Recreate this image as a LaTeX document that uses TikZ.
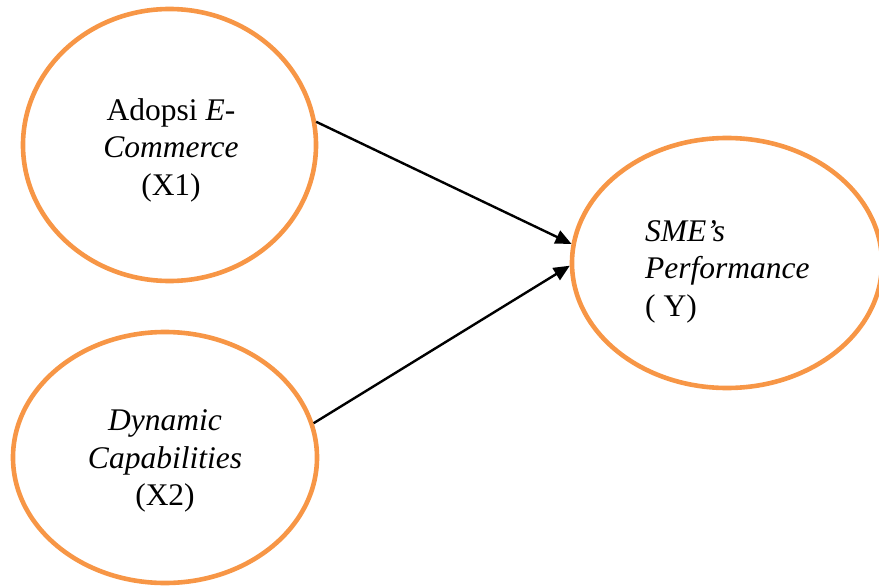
\documentclass[tikz,border=0pt]{standalone}
\usepackage{fontspec}
\setmainfont{Liberation Serif}
\usetikzlibrary{shapes.geometric,arrows.meta}
\definecolor{ovalorange}{HTML}{F79646}
\tikzset{
  oval/.style={ellipse, draw=ovalorange, line width=4.6pt, inner sep=0pt},
  lbl/.style={inner sep=0pt, font=\fontsize{31.5}{37.5}\selectfont},
  link/.style={line width=2.4pt, -{Triangle[length=16pt,width=14pt]}}
}
\begin{document}
\begin{tikzpicture}[x=1pt,y=-1pt]
\useasboundingbox (0,0) rectangle (879,586);
\node[oval, minimum width=293pt, minimum height=272pt] (a) at (169.5,145) {};
\node[oval, minimum width=304pt, minimum height=251pt] (b) at (165,457.5) {};
\node[oval, minimum width=310pt, minimum height=250pt] (c) at (727,263) {};
\node[lbl, align=center] (ta) at (171,150) {Adopsi \textit{E-}\\\textit{Commerce}\\(X1)};
\node[lbl, align=center] (tb) at (165,461) {\textit{Dynamic}\\\textit{Capabilities}\\(X2)};
\node[lbl, align=left, anchor=west] (tc) at (645,271.5) {\textit{SME’s}\\\textit{Performance}\\( Y)};
\draw[link] (a.9.7) -- (c.173);
\draw[link] (b.13.2) -- (c.181.5);
\end{tikzpicture}
\end{document}
